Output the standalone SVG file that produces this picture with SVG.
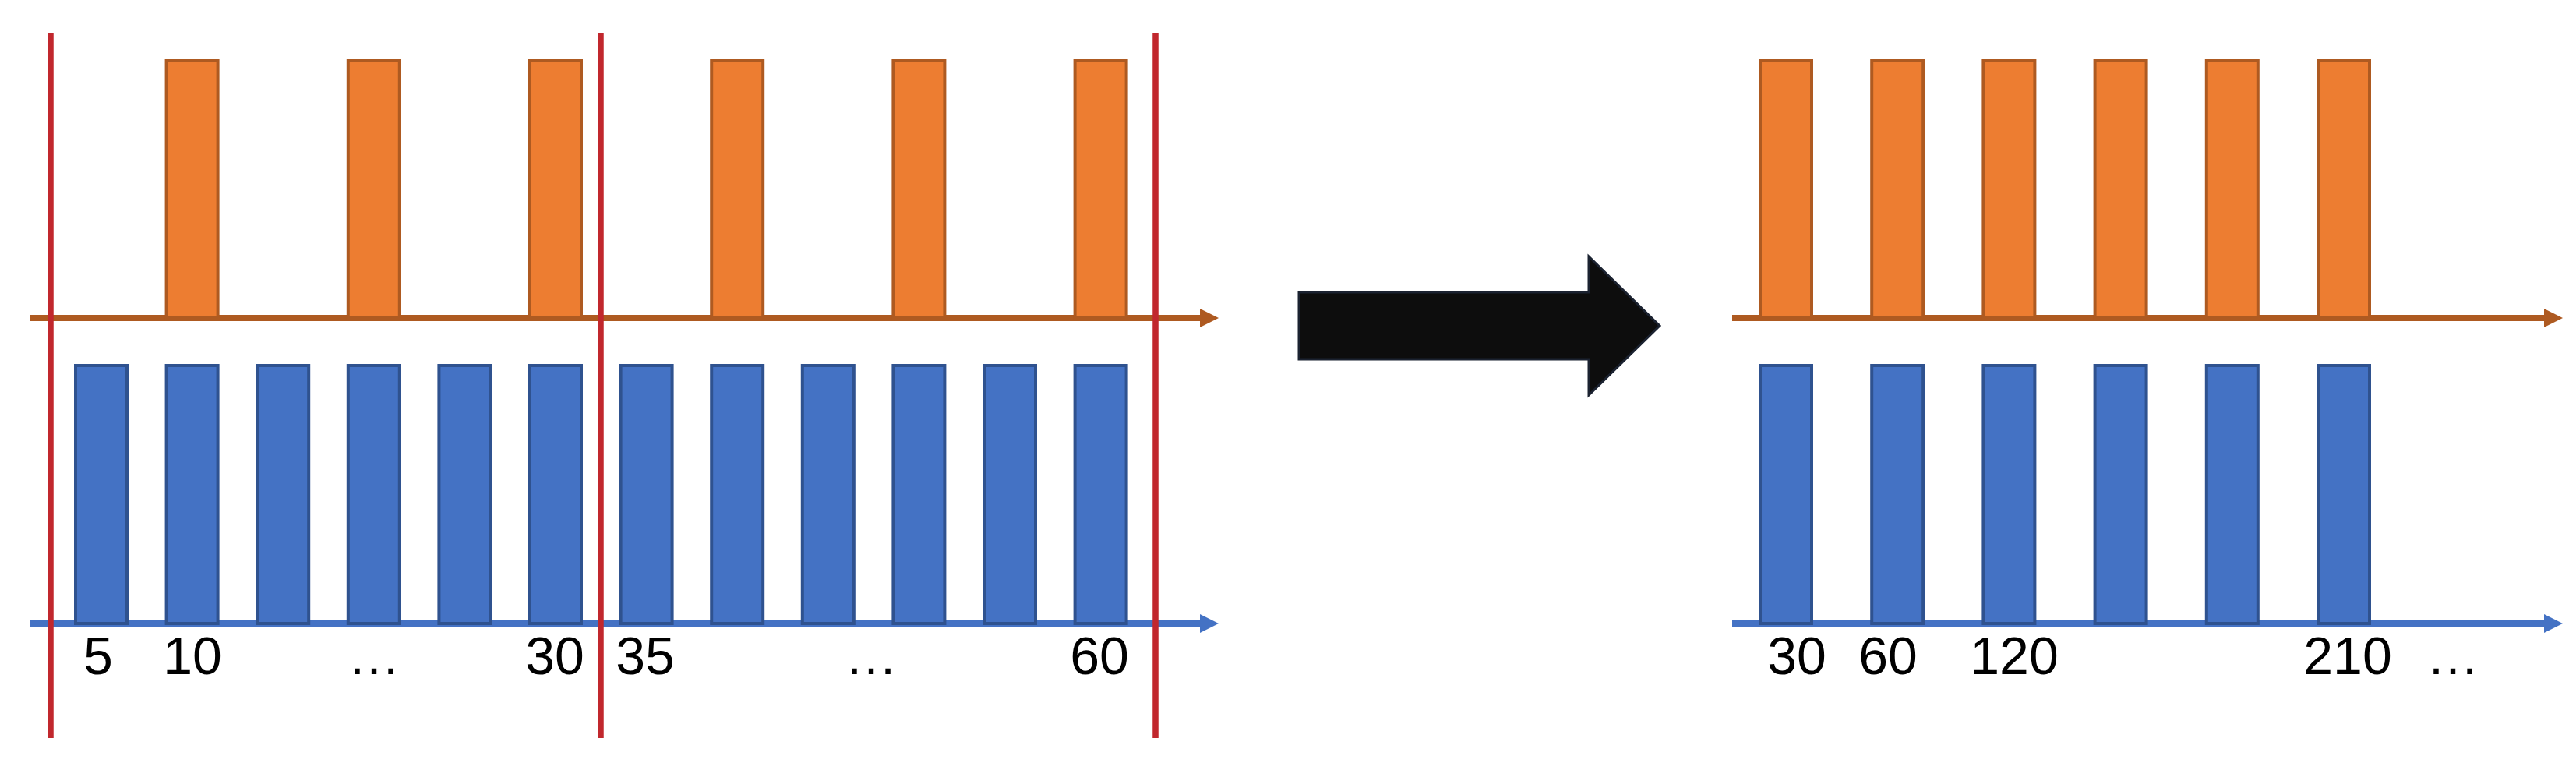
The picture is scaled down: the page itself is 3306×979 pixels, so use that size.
<svg xmlns="http://www.w3.org/2000/svg" width="3306" height="979" viewBox="0 0 3306 979">
  <style>
    .ob { fill: #ED7D31; stroke: #AE5A21; stroke-width: 4; }
    .bb { fill: #4472C4; stroke: #2F528F; stroke-width: 4; }
    .oax { stroke: #AE5A21; stroke-width: 8; fill: none; }
    .bax { stroke: #4472C4; stroke-width: 8; fill: none; }
    .red { stroke: #C1272D; stroke-width: 7.5; }
    .lbl { font-family: "Liberation Sans", Arial, sans-serif; font-size: 68px; fill: #000; text-anchor: middle; }
    .big { fill: #0D0D0D; stroke: #1B2230; stroke-width: 3; }
  </style>
  <defs>
    <marker id="ah-o" viewBox="0 0 24 24" markerWidth="24" markerHeight="24" refX="0" refY="12" markerUnits="userSpaceOnUse" orient="auto">
      <path d="M0,0 L24,12 L0,24 z" fill="#AE5A21"/>
    </marker>
    <marker id="ah-b" viewBox="0 0 24 24" markerWidth="24" markerHeight="24" refX="0" refY="12" markerUnits="userSpaceOnUse" orient="auto">
      <path d="M0,0 L24,12 L0,24 z" fill="#4472C4"/>
    </marker>
  </defs>
  <rect width="3306" height="979" fill="#FFFFFF"/>

  <g id="connectors">
    <line class="oax" x1="38" y1="408" x2="1540" y2="408" marker-end="url(#ah-o)"/>
    <line class="bax" x1="38" y1="800" x2="1540" y2="800" marker-end="url(#ah-b)"/>
    <line class="oax" x1="2223" y1="408" x2="3265" y2="408" marker-end="url(#ah-o)"/>
    <line class="bax" x1="2223" y1="800" x2="3265" y2="800" marker-end="url(#ah-b)"/>
  </g>

  <g id="left-orange-bars">
    <rect class="ob" x="213.6" y="78" width="66" height="330"/>
    <rect class="ob" x="446.8" y="78" width="66" height="330"/>
    <rect class="ob" x="680" y="78" width="66" height="330"/>
    <rect class="ob" x="913.2" y="78" width="66" height="330"/>
    <rect class="ob" x="1146.4" y="78" width="66" height="330"/>
    <rect class="ob" x="1379.6" y="78" width="66" height="330"/>
  </g>

  <g id="left-blue-bars">
    <rect class="bb" x="97" y="469" width="66" height="331"/>
    <rect class="bb" x="213.6" y="469" width="66" height="331"/>
    <rect class="bb" x="330.2" y="469" width="66" height="331"/>
    <rect class="bb" x="446.8" y="469" width="66" height="331"/>
    <rect class="bb" x="563.4" y="469" width="66" height="331"/>
    <rect class="bb" x="680" y="469" width="66" height="331"/>
    <rect class="bb" x="796.6" y="469" width="66" height="331"/>
    <rect class="bb" x="913.2" y="469" width="66" height="331"/>
    <rect class="bb" x="1029.8" y="469" width="66" height="331"/>
    <rect class="bb" x="1146.4" y="469" width="66" height="331"/>
    <rect class="bb" x="1263" y="469" width="66" height="331"/>
    <rect class="bb" x="1379.6" y="469" width="66" height="331"/>
  </g>

  <g id="left-labels">
    <text class="lbl" x="126" y="865">5</text>
    <text class="lbl" x="247" y="865">10</text>
    <text class="lbl" x="480" y="865">…</text>
    <text class="lbl" x="712" y="865">30</text>
    <text class="lbl" x="828" y="865">35</text>
    <text class="lbl" x="1118" y="865">…</text>
    <text class="lbl" x="1411" y="865">60</text>
  </g>

  <g id="window-lines">
    <line class="red" x1="65" y1="42" x2="65" y2="947"/>
    <line class="red" x1="771" y1="42" x2="771" y2="947"/>
    <line class="red" x1="1483" y1="42" x2="1483" y2="947"/>
  </g>

  <g id="big-arrow">
    <polygon class="big" points="1667,375 2039,375 2039,329 2130,418 2039,507 2039,461 1667,461"/>
  </g>

  <g id="right-orange-bars">
    <rect class="ob" x="2259" y="78" width="66" height="330"/>
    <rect class="ob" x="2402.2" y="78" width="66" height="330"/>
    <rect class="ob" x="2545.4" y="78" width="66" height="330"/>
    <rect class="ob" x="2688.6" y="78" width="66" height="330"/>
    <rect class="ob" x="2831.8" y="78" width="66" height="330"/>
    <rect class="ob" x="2975" y="78" width="66" height="330"/>
  </g>

  <g id="right-blue-bars">
    <rect class="bb" x="2259" y="469" width="66" height="331"/>
    <rect class="bb" x="2402.2" y="469" width="66" height="331"/>
    <rect class="bb" x="2545.4" y="469" width="66" height="331"/>
    <rect class="bb" x="2688.6" y="469" width="66" height="331"/>
    <rect class="bb" x="2831.8" y="469" width="66" height="331"/>
    <rect class="bb" x="2975" y="469" width="66" height="331"/>
  </g>

  <g id="right-labels">
    <text class="lbl" x="2306" y="865">30</text>
    <text class="lbl" x="2423" y="865">60</text>
    <text class="lbl" x="2585" y="865">120</text>
    <text class="lbl" x="3013" y="865">210</text>
    <text class="lbl" x="3148" y="865">…</text>
  </g>
</svg>
